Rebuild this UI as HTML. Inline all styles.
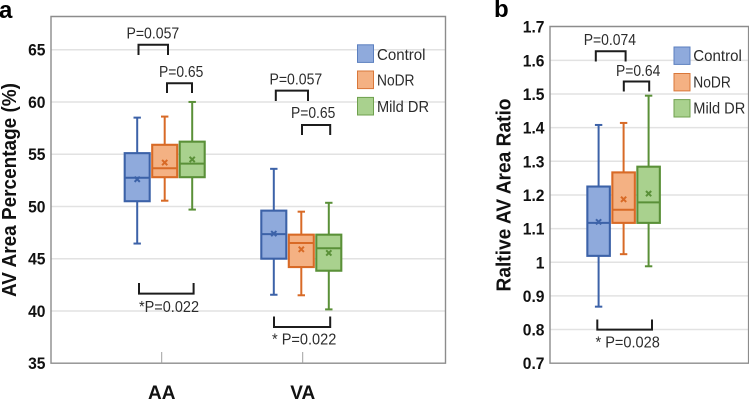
<!DOCTYPE html>
<html lang="en">
<head>
<meta charset="utf-8">
<title>AV Area Box Plots</title>
<style>
html,body{margin:0;padding:0;background:#fff;width:749px;height:401px;overflow:hidden}
svg{display:block}
text{font-family:"Liberation Sans",sans-serif}
.tick{font-size:17px;font-weight:700;fill:#111}
.ann{font-size:15.5px;fill:#2b2b2b}
.leg{font-size:16px;fill:#2b2b2b}
.title{font-size:20.5px;font-weight:700;fill:#111}
.cat{font-size:19px;font-weight:700;fill:#111}
.panel{font-size:24px;font-weight:700;fill:#000}
.bracket{fill:none;stroke:#1c1c1c;stroke-width:2}
</style>
</head>
<body>
<svg id="chart" width="749" height="401" viewBox="0 0 749 401" xmlns="http://www.w3.org/2000/svg">
  <g id="panelA"></g>
  <g id="panelB"></g>

  <text class="panel" x="-1" y="18">a</text>
  <text class="panel" x="494" y="17">b</text>

  <text class="title" transform="translate(16,297) rotate(-90)" textLength="214" lengthAdjust="spacingAndGlyphs">AV Area Percentage (%)</text>
  <text class="title" transform="translate(510.5,291.5) rotate(-90)" textLength="193" lengthAdjust="spacingAndGlyphs">Raltive AV Area Ratio</text>

  <g>
    <text class="ann" x="126.5" y="38.5" textLength="52.7" lengthAdjust="spacingAndGlyphs">P=0.057</text>
    <path class="bracket" d="M138.5 55V44.8H168V55"/>
    <text class="ann" x="159" y="77" textLength="44.3" lengthAdjust="spacingAndGlyphs">P=0.65</text>
    <path class="bracket" d="M167 93V83.2H192V93"/>
    <path class="bracket" d="M139 283V293.6H193.6V283"/>
    <text class="ann" x="139" y="312" textLength="60" lengthAdjust="spacingAndGlyphs">*P=0.022</text>
    <text class="ann" x="269.5" y="84.5" textLength="52.7" lengthAdjust="spacingAndGlyphs">P=0.057</text>
    <path class="bracket" d="M275.8 101V90.6H308V101"/>
    <text class="ann" x="291" y="118" textLength="44.3" lengthAdjust="spacingAndGlyphs">P=0.65</text>
    <path class="bracket" d="M302 135V125H330.2V135"/>
    <path class="bracket" d="M274 316.5V327H330.2V316.5"/>
    <text class="ann" x="272" y="344.5" textLength="64.3" lengthAdjust="spacingAndGlyphs">* P=0.022</text>
  </g>

  <g>
    <text class="ann" x="583.7" y="44.8" textLength="52.3" lengthAdjust="spacingAndGlyphs">P=0.074</text>
    <path class="bracket" d="M595.8 61.5V51.2H625.6V61.5"/>
    <text class="ann" x="616" y="76" textLength="44.3" lengthAdjust="spacingAndGlyphs">P=0.64</text>
    <path class="bracket" d="M623.8 91.5V81.5H649.2V91.5"/>
    <path class="bracket" d="M597.3 319.5V329.6H652V319.5"/>
    <text class="ann" x="595.5" y="347.5" textLength="64.3" lengthAdjust="spacingAndGlyphs">* P=0.028</text>
  </g>

  <g>
    <rect x="357.5" y="44.8" width="16" height="17.6" fill="#8faadc" stroke="#5b7fbf" stroke-width="1"/>
    <text class="leg" x="377" y="60" textLength="48.5" lengthAdjust="spacingAndGlyphs">Control</text>
    <rect x="357.5" y="71" width="16" height="17.6" fill="#f4b183" stroke="#d9773a" stroke-width="1"/>
    <text class="leg" x="377" y="85.7" textLength="37.5" lengthAdjust="spacingAndGlyphs">NoDR</text>
    <rect x="357.5" y="97.4" width="16" height="17.6" fill="#a9d18e" stroke="#6fa04e" stroke-width="1"/>
    <text class="leg" x="377" y="112" textLength="52" lengthAdjust="spacingAndGlyphs">Mild DR</text>
  </g>

  <g>
    <rect x="674" y="47" width="16" height="17.4" fill="#8faadc" stroke="#5b7fbf" stroke-width="1"/>
    <text class="leg" x="693.3" y="61" textLength="48.5" lengthAdjust="spacingAndGlyphs">Control</text>
    <rect x="674" y="73.5" width="16" height="17.4" fill="#f4b183" stroke="#d9773a" stroke-width="1"/>
    <text class="leg" x="693.3" y="87.3" textLength="37.5" lengthAdjust="spacingAndGlyphs">NoDR</text>
    <rect x="674" y="99.6" width="16" height="17.4" fill="#a9d18e" stroke="#6fa04e" stroke-width="1"/>
    <text class="leg" x="693.3" y="113.3" textLength="52" lengthAdjust="spacingAndGlyphs">Mild DR</text>
  </g>
</svg>

<script>
// Each box: [low whisker, Q1, median, Q3, high whisker, mean]
var aaControl = [46.45, 50.5, 52.75, 55.1, 58.5, 52.6];
var aaNoDR = [50.55, 52.8, 53.65, 55.9, 58.6, 54.2];
var aaMild = [49.7, 52.8, 54.1, 56.2, 60.0, 54.5];
var vaControl = [41.55, 45.0, 47.35, 49.6, 53.6, 47.4];
var vaNoDR = [41.5, 44.2, 46.5, 47.3, 49.5, 45.9];
var vaMild = [40.15, 43.85, 46.0, 47.3, 50.35, 45.55];
var ratioControl = [0.868, 1.019, 1.117, 1.225, 1.408, 1.12];
var ratioNoDR = [1.024, 1.117, 1.156, 1.267, 1.414, 1.187];
var ratioMild = [0.988, 1.117, 1.178, 1.284, 1.495, 1.204];

var categoriesA = ['AA', 'VA'];
var seriesNames = ['control', 'nodr', 'mild'];
var yTicksA = [35, 40, 45, 50, 55, 60, 65];
var yTickLabelsA = ['35', '40', '45', '50', '55', '60', '65'];
var yTicksB = [0.7, 0.8, 0.9, 1.0, 1.1, 1.2, 1.3, 1.4, 1.5, 1.6, 1.7];
var yTickLabelsB = ['0.7', '0.8', '0.9', '1', '1.1', '1.2', '1.3', '1.4', '1.5', '1.6', '1.7'];

var NS = 'http://www.w3.org/2000/svg';
var strokeColors = ['#3c62a8', '#d86a26', '#5a9038'];
var fillColors = ['#8faadc', '#f4b183', '#a9d18e'];

function yA(v) { return 363.2 - (v - 35) * 10.45; }
function yB(v) { return 363.2 - (v - 0.7) * 336.5; }
function xA(cat, s) { return 164.7 + cat * 136.6 + (s - 1) * 27.5; }
function xB(s) { return 623.6 + (s - 1) * 25; }

function make(parent, tag, attrs) {
  var el = document.createElementNS(NS, tag);
  for (var k in attrs) el.setAttribute(k, attrs[k]);
  parent.appendChild(el);
  return el;
}

function drawBox(parent, values, x, y, s, w, name) {
  var g = make(parent, 'g', {});
  
  
  var c = strokeColors[s];
  var lineStyle = { stroke: c, 'stroke-width': 2, fill: 'none' };
  function line(x1, y1, x2, y2) {
    var a = { x1: x1, y1: y1, x2: x2, y2: y2 };
    for (var k in lineStyle) a[k] = lineStyle[k];
    return make(g, 'line', a);
  }
  line(x, y(values[4]), x, y(values[3]));
  line(x, y(values[1]), x, y(values[0]));
  line(x - 3.7, y(values[4]), x + 3.7, y(values[4]));
  line(x - 3.7, y(values[0]), x + 3.7, y(values[0]));
  make(g, 'rect', {
    x: x - w / 2, y: y(values[3]), width: w, height: y(values[1]) - y(values[3]),
    fill: fillColors[s], stroke: c, 'stroke-width': 2.1
  });
  line(x - w / 2, y(values[2]), x + w / 2, y(values[2]));
  var m = y(values[5]);
  line(x - 2.6, m - 2.6, x + 2.6, m + 2.6);
  line(x - 2.6, m + 2.6, x + 2.6, m - 2.6);
}

function drawAxes(parent, ticks, labels, y, left, right, top, bottom, labelX, prefix) {
  ticks.forEach(function (t, i) {
    if (i > 0 && y(t) > top + 2) {
      var grid = make(parent, 'line', { x1: left, x2: right, y1: y(t), y2: y(t), stroke: '#e2e2e2', 'stroke-width': 1.5 });
      
      
    }
    var label = labels[i];
    var hasDot = label.indexOf('.') >= 0;
    var labelWidth = hasDot ? (label.length - 1) * 8.7 + 4.3 : label.length * 8.7;
    var lab = make(parent, 'text', {
      x: labelX, y: y(t) + 6, 'text-anchor': 'end', 'class': 'tick',
      textLength: labelWidth, lengthAdjust: 'spacingAndGlyphs'
    });
    
    
    lab.textContent = label;
  });
  var frame = make(parent, 'path', {
    d: 'M' + left + ' ' + top + 'V' + bottom + 'H' + right + 'V' + top + 'Z',
    fill: 'none', stroke: '#8c8c8c', 'stroke-width': 1.4
  });
  
  
}

var panelA = document.getElementById('panelA');
var panelB = document.getElementById('panelB');

drawAxes(panelA, yTicksA, yTickLabelsA, yA, 51, 445.5, 16.5, 363.2, 45.5, 'y-axis-a');
drawAxes(panelB, yTicksB, yTickLabelsB, yB, 550, 748.6, 26.5, 363.2, 544.5, 'y-axis-b');

var categoryTickOffsets = [-3, 1.4];
categoriesA.forEach(function (name, i) {
  var cx = xA(i, 1) + categoryTickOffsets[i];
  var tick = make(panelA, 'line', { x1: cx, x2: cx, y1: 352, y2: 363.2, stroke: '#a0a0a0', 'stroke-width': 1 });
  
  
  var lab = make(panelA, 'text', { x: cx, y: 399, 'text-anchor': 'middle', 'class': 'cat' });
  
  
  lab.textContent = name;
});

[aaControl, aaNoDR, aaMild].forEach(function (vals, s) {
  drawBox(panelA, vals, xA(0, s), yA, s, 25, 'box-aa-' + seriesNames[s]);
});
[vaControl, vaNoDR, vaMild].forEach(function (vals, s) {
  drawBox(panelA, vals, xA(1, s), yA, s, 25, 'box-va-' + seriesNames[s]);
});
[ratioControl, ratioNoDR, ratioMild].forEach(function (vals, s) {
  drawBox(panelB, vals, xB(s), yB, s, 22.5, 'box-ratio-' + seriesNames[s]);
});
</script>
</body>
</html>
